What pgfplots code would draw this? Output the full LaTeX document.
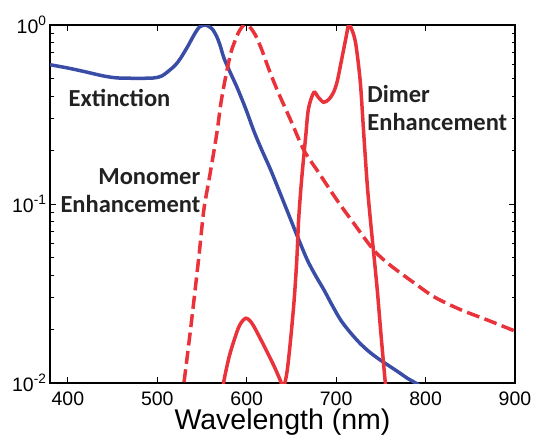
\documentclass[border=0pt]{standalone}
\usepackage{fontspec}
\setmainfont{Liberation Sans}
\newfontfamily\calib{Carlito}
\usepackage{pgfplots}
\pgfplotsset{compat=1.18}
\usetikzlibrary{calc}
\definecolor{extblue}{HTML}{3A4DA6}
\definecolor{enhred}{HTML}{EA323A}
\definecolor{annot}{HTML}{222222}

\begin{document}
\begin{tikzpicture}
\begin{axis}[
    scale only axis, width=465pt, height=358pt,
    ymode=log, xmin=380, xmax=900, ymin=0.01, ymax=1,
    xtick={400,500,...,900},
    ytick={0.01,0.1,1},
    yticklabels={10\textsuperscript{-2},10\textsuperscript{-1},10\textsuperscript{0}},
    /pgf/number format/assume math mode=true,
    tick align=inside, major tick length=6pt, minor tick length=3.5pt,
    axis line style={line width=1.5pt},
    every tick/.style={black, line width=1pt},
    tick label style={font=\fontsize{19.5}{19.5}\selectfont},
    xticklabel style={yshift=-5pt},
    xlabel={Wavelength (nm)},
    xlabel style={font=\fontsize{28.5}{28.5}\selectfont, yshift=3pt},
    clip=true,
]
% extinction
\addplot[extblue, line width=3.5pt, smooth, tension=0.5] coordinates {
    (380,0.60) (400,0.575) (418,0.55) (440,0.519) (456,0.506) (480,0.504)
    (496,0.506) (505,0.519) (512,0.55) (520,0.596) (526,0.652) (534,0.759)
    (541,0.879) (547,0.973) (554,1.0) (561,0.955) (566,0.871) (570,0.776)
    (574.6,0.652) (582,0.537) (589.6,0.443) (599,0.339) (608.2,0.254)
    (617,0.1995) (626.8,0.155) (637,0.116) (647,0.0871) (657,0.0653)
    (667.8,0.0486) (677,0.0398) (686.4,0.0331) (695,0.0275) (705,0.0225)
    (716,0.0191) (727,0.0166) (738,0.0148) (749.7,0.0134) (761,0.0123)
    (772,0.0113) (780,0.0106) (789,0.0100) (800,0.0092)
};
% monomer enhancement
\addplot[enhred, line width=3.5pt, dash pattern=on 13pt off 5.5pt, smooth, tension=0.5] coordinates {
    (525,0.0063) (530,0.0102) (536,0.0178) (541,0.0291) (547,0.0537)
    (552,0.0925) (558,0.138) (563.5,0.200) (567.3,0.263) (571,0.363)
    (576,0.501) (582,0.692) (586,0.794) (591,0.912) (597,1.0) (603,0.977)
    (609,0.891) (616,0.745) (625,0.562) (635,0.423) (649,0.295) (664,0.1995)
    (680,0.151) (701,0.105) (720,0.0776) (742,0.0553) (760,0.0457)
    (787,0.0363) (810,0.0302) (839,0.0257) (870,0.0224) (900,0.0195)
};
% dimer enhancement
\addplot[enhred, line width=3.5pt, smooth, tension=0.5] coordinates {
    (570,0.0075) (574,0.01) (580,0.0138) (586,0.0174) (592,0.021)
    (599,0.023) (606,0.0215) (616,0.0174) (624,0.0145) (631,0.0123)
    (637,0.0105) (641,0.0095) (645,0.0115) (649,0.0174) (653,0.029)
    (656,0.049) (658,0.081) (661,0.13) (664,0.19) (666,0.24) (669,0.34)
    (675,0.42) (680,0.395) (686,0.37) (692,0.385) (697,0.42) (701,0.48)
    (705,0.6) (711,0.85) (714,1.0) (718,0.93) (722,0.78) (727,0.48)
    (731,0.24) (735,0.124) (739,0.075) (742,0.053) (746,0.033)
    (750,0.019) (755,0.01) (758,0.0075)
};
\node[font=\calib\bfseries\fontsize{24.5}{28}\selectfont, text=annot, anchor=west]
    at (axis cs:397,0.39) {Extinction};
\node[font=\calib\bfseries\fontsize{24.5}{28}\selectfont, text=annot, anchor=east, align=right]
    at (axis cs:552,0.118) {Monomer\\Enhancement};
\node[font=\calib\bfseries\fontsize{24.5}{28}\selectfont, text=annot, anchor=west, align=left]
    at (axis cs:731,0.345) {Dimer\\Enhancement};
\end{axis}
\pgfresetboundingbox
\path[use as bounding box] ($(current axis.south west)+(-50pt,-54pt)$)
    rectangle ($(current axis.north east)+(19pt,25pt)$);
\end{tikzpicture}
\end{document}
